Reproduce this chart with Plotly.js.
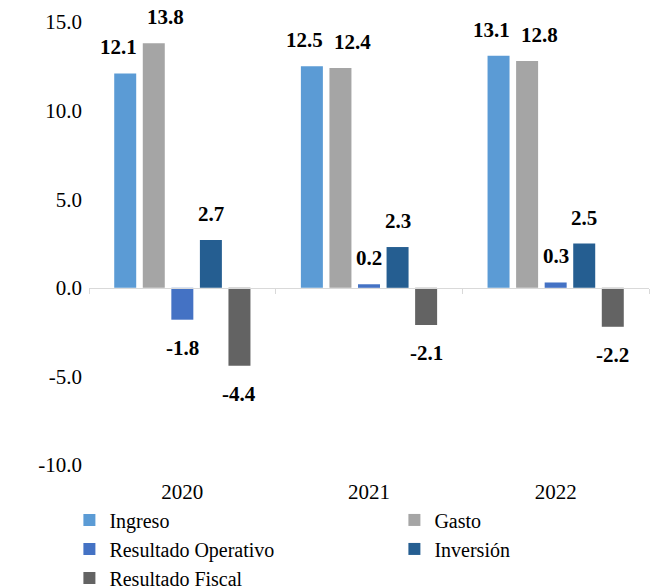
<!DOCTYPE html>
<html>
<head>
<meta charset="utf-8">
<script src="https://cdn.plot.ly/plotly-3.0.1.min.js"></script>
</head>
<body style="margin:0;background:#fff">
<div id="chart"></div>
<script>

/* DATA */

const years = ["2020","2021","2022"]

const seriesNames = ["Ingreso","Gasto","Resultado Operativo","Inversión","Resultado Fiscal"]

const ingreso = [12.1,12.5,13.1]
const gasto = [13.8,12.4,12.8]
const resultadoOperativo = [-1.8,0.2,0.3]
const inversion = [2.7,2.3,2.5]
const resultadoFiscal = [-4.4,-2.1,-2.2]

const series = [ingreso,gasto,resultadoOperativo,inversion,resultadoFiscal]

const yTicks = [-10,-5,0,5,10,15]

/* STYLE */

const colors = ["#5B9BD5","#A5A5A5","#4472C4","#255E91","#636363"]

// label nudges so Ingreso / Gasto labels do not collide
const labelNudge = [-7,12,0,0,0]

const font = "Liberation Serif"

const yMin = -10
const yMax = 15

const margin = {l:89,r:1,t:22,b:123,autoexpand:false}
const bargap = 0.235
const bargroupgap = 0.23

/* TRACES */

let traces = series.map((vals,i)=>({
type:"bar",
name:seriesNames[i],
x:years,
y:vals,
marker:{color:colors[i]}
}))

// empty helper trace so the category axis line at zero gets drawn
traces.push({
type:"scatter",
mode:"markers",
x:years,
y:[null,null,null],
xaxis:"x2",
yaxis:"y",
showlegend:false,
hoverinfo:"skip"
})

/* DATA LABELS */

let plotWidth = 650 - margin.l - margin.r
let slot = plotWidth/years.length*(1-bargap)/series.length

let annotations = []

series.forEach((vals,i)=>{
vals.forEach((v,j)=>{
annotations.push({
x:j, // category index on the x axis
y:v,
xref:"x",
yref:"y",
text:"<b>"+v.toFixed(1)+"</b>",
showarrow:false,
xshift:(i-(series.length-1)/2)*slot+labelNudge[i],
yanchor:v>=0?"bottom":"top",
yshift:v>=0?12:-14,
font:{family:font,size:21,color:"#000"}
})
})
})

Plotly.newPlot("chart",traces,{
width:650,
height:588,
margin:margin,
barmode:"group",
bargap:bargap,
bargroupgap:bargroupgap,
font:{family:font,size:21,color:"#000"},
xaxis:{
type:"category",
range:[-0.5,years.length-0.5],
showline:false,
ticks:"",
showgrid:false,
zeroline:false,
ticklabelstandoff:12,
tickfont:{family:font,size:21,color:"#000"}
},
xaxis2:{
type:"category",
overlaying:"x",
anchor:"free",
position:(0-yMin)/(yMax-yMin),
range:[-0.5,years.length-0.5],
showline:true,
linecolor:"#D9D9D9",
linewidth:1,
ticks:"outside",
tickson:"boundaries",
ticklen:5,
tickcolor:"#D9D9D9",
showticklabels:false,
showgrid:false,
zeroline:false
},
yaxis:{
range:[yMin,yMax],
tickvals:yTicks,
ticktext:yTicks.map(v=>v.toFixed(1)),
showgrid:false,
zeroline:false,
showline:false,
ticks:"",
ticklabelstandoff:6,
tickfont:{family:font,size:21,color:"#000"}
},
showlegend:true,
legend:{
orientation:"h",
x:-0.035,
xanchor:"left",
y:-0.08,
yanchor:"top",
entrywidth:280,
entrywidthmode:"pixels",
traceorder:"normal",
bgcolor:"rgba(0,0,0,0)",
font:{family:font,size:20,color:"#000"}
},
annotations:annotations
},{staticPlot:true})

</script>
</body>
</html>
